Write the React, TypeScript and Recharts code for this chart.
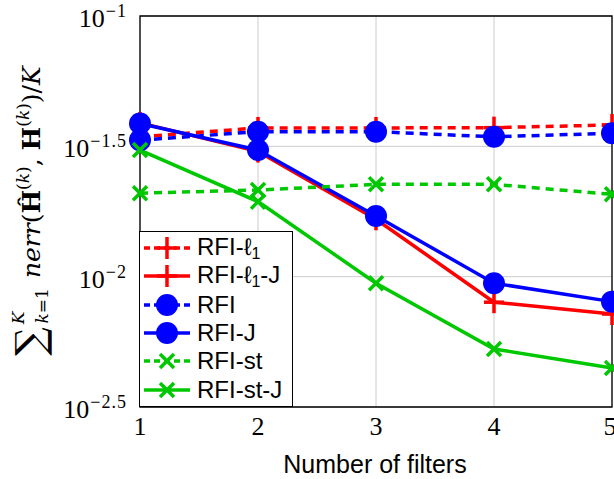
import React from "react"
import { LineChart, Line, XAxis, YAxis, CartesianGrid, Legend, ReferenceArea } from "recharts"

const FILTERS = [1, 2, 3, 4, 5]
const RFI_L1 = [0.0344, 0.0372, 0.0372, 0.0373, 0.0382]
const RFI_L1_J = [0.0389, 0.0302, 0.0166, 0.00798, 0.00719]
const RFI = [0.0334, 0.036, 0.036, 0.0344, 0.0355]
const RFI_J = [0.0387, 0.0306, 0.0171, 0.00944, 0.00802]
const RFI_ST = [0.0209, 0.0215, 0.0226, 0.0226, 0.0207]
const RFI_ST_J = [0.0306, 0.0194, 0.00944, 0.00528, 0.00446]

const Y_TICKS = [10 ** -2.5, 10 ** -2, 10 ** -1.5, 10 ** -1]
const Y_TICK_EXP = ["−2.5", "−2", "−1.5", "−1"]

const RED = "#ff0000"
const BLUE = "#0000ff"
const GREEN = "#00c800"

type Marker = "plus" | "circle" | "cross"

const SERIES: { key: string; name: string; sub?: string; suffix?: string; color: string; dashed: boolean; marker: Marker }[] = [
  { key: "rfiL1", name: "RFI-ℓ", sub: "1", color: RED, dashed: true, marker: "plus" },
  { key: "rfiL1J", name: "RFI-ℓ", sub: "1", suffix: "-J", color: RED, dashed: false, marker: "plus" },
  { key: "rfi", name: "RFI", color: BLUE, dashed: true, marker: "circle" },
  { key: "rfiJ", name: "RFI-J", color: BLUE, dashed: false, marker: "circle" },
  { key: "rfiSt", name: "RFI-st", color: GREEN, dashed: true, marker: "cross" },
  { key: "rfiStJ", name: "RFI-st-J", color: GREEN, dashed: false, marker: "cross" },
]

const data = FILTERS.map((x, i) => ({
  x,
  rfiL1: RFI_L1[i],
  rfiL1J: RFI_L1_J[i],
  rfi: RFI[i],
  rfiJ: RFI_J[i],
  rfiSt: RFI_ST[i],
  rfiStJ: RFI_ST_J[i],
}))

function MarkerShape({ cx, cy, color, marker }: { cx: number; cy: number; color: string; marker: Marker }) {
  if (marker === "circle") return <circle cx={cx} cy={cy} r={11} fill={color} />
  if (marker === "plus")
    return (
      <g stroke={color} strokeWidth={3.5}>
        <line x1={cx - 10} y1={cy} x2={cx + 10} y2={cy} />
        <line x1={cx} y1={cy - 11} x2={cx} y2={cy + 11} />
      </g>
    )
  return (
    <g stroke={color} strokeWidth={3.5}>
      <line x1={cx - 7} y1={cy - 7} x2={cx + 7} y2={cy + 7} />
      <line x1={cx - 7} y1={cy + 7} x2={cx + 7} y2={cy - 7} />
    </g>
  )
}

// 10^x labels, serif like the LaTeX original
const YTick = (props: any) => {
  const { y, index } = props
  return (
    <text x={127} y={y} textAnchor="end" fontFamily="'Liberation Serif', 'DejaVu Serif', serif" fill="#000">
      <tspan fontSize={26} dy={11}>10</tspan>
      <tspan fontSize={18} dx={1} dy={-10} letterSpacing={1}>{Y_TICK_EXP[index]}</tspan>
    </text>
  )
}

const XTick = (props: any) => {
  const { x, payload } = props
  return (
    <text x={x} y={435} textAnchor="middle" fontFamily="'Liberation Serif', 'DejaVu Serif', serif" fontSize={26} fill="#000">
      {payload.value}
    </text>
  )
}

const YLabel = () => (
  <text transform="translate(40,211) rotate(-90)" textAnchor="middle" fontFamily="'DejaVu Serif', serif" fontSize={25} fill="#000">
    <tspan fontSize={40} dy={4}>∑</tspan>
    <tspan fontSize={17} fontStyle="italic" dx={3} dy={-20}>K</tspan>
    <tspan fontSize={17} fontStyle="italic" dx={-12} dy={24}>k</tspan>
    <tspan fontSize={17}>=1</tspan>
    <tspan fontStyle="italic" dx={10} dy={-8}>nerr</tspan>
    <tspan>(</tspan>
    <tspan fontWeight="bold">Ĥ</tspan>
    <tspan fontSize={17} dy={-11}>(</tspan>
    <tspan fontSize={17} fontStyle="italic">k</tspan>
    <tspan fontSize={17}>)</tspan>
    <tspan dy={11}>, </tspan>
    <tspan fontWeight="bold">H</tspan>
    <tspan fontSize={17} dy={-11}>(</tspan>
    <tspan fontSize={17} fontStyle="italic">k</tspan>
    <tspan fontSize={17}>)</tspan>
    <tspan dy={11}>)/</tspan>
    <tspan fontStyle="italic">K</tspan>
  </text>
)

const XLabel = () => (
  <text x={375} y={473} textAnchor="middle" fontFamily="'Liberation Sans', sans-serif" fontSize={25} fill="#000">
    Number of filters
  </text>
)

const LegendBox = () => (
  <div
    style={{
      background: "#fff",
      border: "1.3px solid #000",
      width: 154,
      height: 176,
      boxSizing: "border-box",
      paddingTop: 2,
      fontFamily: "'Liberation Sans', sans-serif",
      fontSize: 24,
      color: "#000",
    }}
  >
    {SERIES.map((s) => (
      <div key={s.key} style={{ display: "flex", alignItems: "center", height: 28.3 }}>
        <svg width={53} height={28} style={{ flex: "none" }}>
          <line x1={4} y1={14} x2={50} y2={14} stroke={s.color} strokeWidth={3.5} strokeDasharray={s.dashed ? "6 4" : undefined} />
          <MarkerShape cx={27} cy={14} color={s.color} marker={s.marker} />
        </svg>
        <span style={{ marginLeft: 4, whiteSpace: "nowrap", lineHeight: 1 }}>
          {s.name}
          {s.sub && <sub style={{ fontSize: 16, verticalAlign: -4 }}>{s.sub}</sub>}
          {s.suffix}
        </span>
      </div>
    ))}
  </div>
)

export default function App() {
  return (
    <div style={{ position: "absolute", left: 0, top: 0, width: 614, height: 479, background: "#fff" }}>
      <LineChart width={614} height={479} data={data} margin={{ top: 16, right: 2, bottom: 42, left: 0 }}>
        <CartesianGrid stroke="#cccccc" strokeWidth={1} />
        <XAxis
          dataKey="x"
          type="number"
          domain={[1, 5]}
          ticks={FILTERS}
          height={30}
          tick={<XTick />}
          tickLine={false}
          axisLine={false}
          label={<XLabel />}
        />
        <YAxis
          type="number"
          scale="log"
          domain={[Y_TICKS[0], Y_TICKS[3]]}
          ticks={Y_TICKS}
          allowDataOverflow
          width={140}
          tick={<YTick />}
          tickLine={false}
          axisLine={false}
          label={<YLabel />}
        />
        {SERIES.map((s) => (
          <Line
            key={s.key}
            dataKey={s.key}
            stroke={s.color}
            strokeWidth={3.5}
            strokeDasharray={s.dashed ? "8 6" : undefined}
            isAnimationActive={false}
            dot={(p: any) => <MarkerShape key={`${s.key}-${p.index}`} cx={p.cx} cy={p.cy} color={s.color} marker={s.marker} />}
            activeDot={false}
          />
        ))}
        <ReferenceArea x1={1} x2={5} y1={Y_TICKS[0]} y2={Y_TICKS[3]} fill="none" stroke="#000" strokeWidth={1.3} fillOpacity={0} ifOverflow="visible" />
        <Legend
          layout="horizontal"
          verticalAlign="middle"
          align="center"
          wrapperStyle={{ left: 139, top: 231, width: 154, height: 176 }}
          content={<LegendBox />}
        />
      </LineChart>
    </div>
  )
}
